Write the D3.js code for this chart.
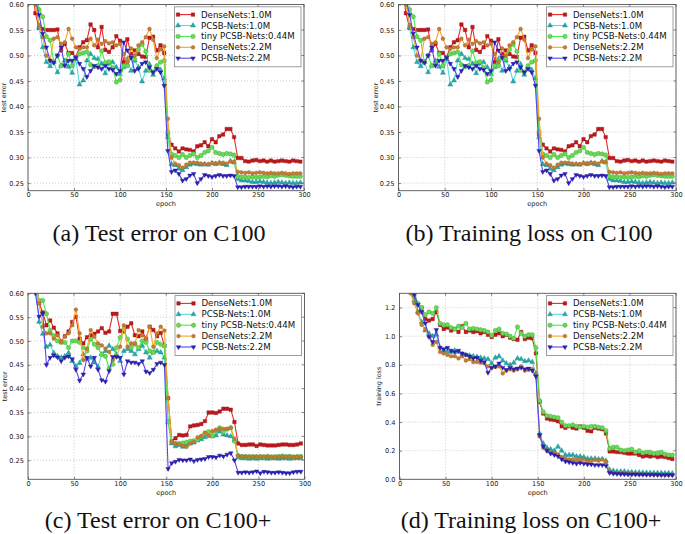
<!DOCTYPE html>
<html><head><meta charset="utf-8">
<script src="https://cdn.jsdelivr.net/npm/d3@7"></script>
<style>body{margin:0;background:#fff}svg{display:block}</style>
</head><body><svg id="c" width="685" height="534"></svg>
<script>
// ---------- DATA ----------
const epochs = [4,8,12,16,20,24,28,32,36,40,44,48,52,56,60,64,68,72,76,80,84,88,92,96,100,104,108,112,116,120,124,128,132,136,140,144,148,152,156,160,164,168,172,176,180,184,188,192,196,200,204,208,212,216,220,224,228,232,236,240,244,248,252,256,260,264,268,272,276,280,284,288,292,296];
const seriesNames = ["DenseNets:1.0M","PCSB-Nets:1.0M","tiny PCSB-Nets:0.44M","DenseNets:2.2M","PCSB-Nets:2.2M"];

// C100 test error (panels a and b)
const c100Dense1 = [0.640,0.583,0.554,0.552,0.550,0.550,0.550,0.551,0.510,0.523,0.505,0.505,0.497,0.516,0.526,0.530,0.561,0.550,0.516,0.556,0.511,0.507,0.516,0.538,0.529,0.487,0.532,0.503,0.510,0.503,0.498,0.497,0.535,0.537,0.510,0.520,0.505,0.345,0.325,0.318,0.312,0.318,0.316,0.315,0.312,0.322,0.324,0.330,0.322,0.336,0.330,0.342,0.345,0.356,0.356,0.340,0.299,0.299,0.293,0.292,0.294,0.295,0.293,0.294,0.292,0.294,0.292,0.293,0.294,0.293,0.292,0.294,0.293,0.292];
const c100Pcsb1 = [0.700,0.620,0.555,0.516,0.487,0.479,0.487,0.467,0.480,0.490,0.478,0.466,0.493,0.443,0.451,0.490,0.503,0.495,0.493,0.484,0.465,0.484,0.487,0.477,0.463,0.477,0.493,0.470,0.490,0.477,0.449,0.470,0.483,0.462,0.478,0.472,0.455,0.340,0.287,0.285,0.278,0.275,0.281,0.286,0.288,0.287,0.286,0.287,0.286,0.289,0.287,0.290,0.287,0.285,0.293,0.290,0.258,0.255,0.255,0.254,0.252,0.252,0.253,0.252,0.251,0.250,0.251,0.252,0.251,0.250,0.251,0.250,0.250,0.251];
const c100Tiny = [0.720,0.640,0.590,0.576,0.537,0.530,0.487,0.500,0.480,0.484,0.503,0.480,0.496,0.503,0.505,0.507,0.482,0.478,0.480,0.509,0.486,0.488,0.476,0.448,0.452,0.480,0.480,0.496,0.493,0.512,0.522,0.508,0.471,0.468,0.480,0.487,0.490,0.350,0.307,0.304,0.300,0.306,0.300,0.304,0.307,0.300,0.304,0.310,0.313,0.320,0.310,0.308,0.306,0.308,0.307,0.305,0.263,0.262,0.262,0.261,0.262,0.261,0.262,0.263,0.262,0.264,0.263,0.265,0.266,0.265,0.264,0.263,0.263,0.263];
const c100Dense2 = [0.690,0.600,0.560,0.536,0.500,0.490,0.533,0.536,0.523,0.526,0.552,0.533,0.516,0.513,0.516,0.516,0.533,0.520,0.531,0.523,0.528,0.524,0.526,0.520,0.523,0.503,0.487,0.514,0.500,0.520,0.526,0.536,0.552,0.531,0.495,0.512,0.518,0.376,0.300,0.288,0.285,0.280,0.286,0.290,0.290,0.290,0.288,0.287,0.287,0.289,0.289,0.289,0.290,0.288,0.292,0.292,0.272,0.271,0.270,0.271,0.269,0.270,0.271,0.270,0.269,0.270,0.269,0.269,0.270,0.269,0.268,0.269,0.269,0.269];
const c100Pcsb2 = [0.700,0.610,0.580,0.543,0.516,0.490,0.486,0.500,0.516,0.480,0.490,0.490,0.496,0.484,0.474,0.458,0.470,0.480,0.477,0.474,0.480,0.474,0.472,0.464,0.470,0.526,0.510,0.496,0.470,0.474,0.484,0.487,0.477,0.467,0.474,0.467,0.441,0.313,0.272,0.275,0.268,0.255,0.258,0.265,0.268,0.250,0.258,0.266,0.264,0.262,0.264,0.266,0.264,0.264,0.265,0.264,0.242,0.242,0.243,0.243,0.243,0.243,0.244,0.243,0.244,0.243,0.244,0.244,0.243,0.244,0.243,0.242,0.243,0.243];

// C100+ test error (panel c)
const c100pDense1 = [0.700,0.640,0.579,0.560,0.533,0.543,0.528,0.516,0.499,0.510,0.520,0.540,0.551,0.505,0.495,0.508,0.512,0.515,0.520,0.527,0.517,0.520,0.557,0.557,0.521,0.520,0.530,0.537,0.512,0.510,0.520,0.505,0.530,0.523,0.510,0.517,0.490,0.380,0.290,0.296,0.303,0.302,0.303,0.321,0.323,0.324,0.326,0.332,0.350,0.350,0.349,0.352,0.358,0.358,0.356,0.330,0.285,0.282,0.282,0.283,0.283,0.280,0.283,0.282,0.281,0.281,0.281,0.282,0.283,0.283,0.282,0.282,0.283,0.285];
const c100pPcsb1 = [0.700,0.620,0.540,0.515,0.488,0.492,0.475,0.468,0.465,0.468,0.475,0.458,0.447,0.454,0.472,0.462,0.465,0.455,0.446,0.472,0.479,0.490,0.483,0.472,0.458,0.479,0.483,0.479,0.472,0.483,0.490,0.476,0.465,0.476,0.479,0.476,0.465,0.330,0.285,0.279,0.282,0.278,0.282,0.285,0.287,0.291,0.294,0.298,0.305,0.300,0.302,0.310,0.304,0.302,0.300,0.292,0.256,0.254,0.254,0.253,0.254,0.253,0.254,0.254,0.253,0.254,0.254,0.253,0.254,0.254,0.253,0.254,0.254,0.254];
const c100pTiny = [0.700,0.620,0.585,0.585,0.557,0.522,0.511,0.500,0.497,0.497,0.486,0.500,0.500,0.497,0.486,0.479,0.504,0.493,0.486,0.472,0.468,0.443,0.451,0.486,0.507,0.525,0.504,0.486,0.493,0.486,0.500,0.497,0.479,0.476,0.497,0.493,0.490,0.330,0.288,0.285,0.285,0.286,0.288,0.290,0.291,0.293,0.299,0.306,0.310,0.301,0.312,0.318,0.309,0.315,0.318,0.290,0.259,0.258,0.258,0.257,0.258,0.257,0.258,0.257,0.258,0.257,0.258,0.258,0.259,0.258,0.258,0.257,0.258,0.258];
const c100pDense2 = [0.680,0.620,0.579,0.530,0.516,0.516,0.505,0.512,0.498,0.509,0.516,0.533,0.566,0.516,0.460,0.484,0.523,0.509,0.495,0.491,0.484,0.477,0.460,0.467,0.488,0.533,0.488,0.495,0.495,0.523,0.512,0.505,0.530,0.488,0.516,0.530,0.522,0.380,0.288,0.285,0.283,0.280,0.278,0.285,0.288,0.298,0.301,0.308,0.301,0.311,0.314,0.316,0.316,0.316,0.318,0.295,0.260,0.258,0.258,0.258,0.257,0.258,0.257,0.258,0.258,0.257,0.256,0.257,0.258,0.257,0.258,0.257,0.257,0.257];
const c100pPcsb2 = [0.680,0.600,0.551,0.558,0.450,0.465,0.470,0.466,0.458,0.465,0.468,0.462,0.440,0.417,0.430,0.465,0.447,0.465,0.440,0.418,0.415,0.437,0.467,0.467,0.465,0.430,0.458,0.455,0.455,0.452,0.458,0.436,0.433,0.440,0.452,0.455,0.450,0.232,0.244,0.247,0.251,0.250,0.250,0.252,0.248,0.251,0.252,0.253,0.257,0.257,0.256,0.260,0.258,0.262,0.265,0.250,0.224,0.224,0.225,0.224,0.225,0.227,0.223,0.226,0.225,0.224,0.224,0.225,0.224,0.223,0.223,0.225,0.226,0.226];

// C100+ training loss (panel d)
const lossDense1 = [1.60,1.45,1.35,1.28,1.17,1.20,1.12,1.11,1.12,1.17,1.08,1.05,1.06,1.04,1.05,1.03,1.07,1.03,1.04,1.03,1.035,1.02,1.03,1.01,0.995,1.01,1.02,1.00,1.01,0.99,0.98,0.975,1.03,0.98,0.99,0.985,0.88,0.54,0.46,0.425,0.418,0.415,0.405,0.37,0.36,0.37,0.36,0.355,0.37,0.36,0.34,0.335,0.36,0.355,0.35,0.32,0.195,0.195,0.19,0.19,0.185,0.18,0.18,0.18,0.17,0.16,0.165,0.16,0.165,0.155,0.16,0.155,0.148,0.142];
const lossPcsb1 = [1.65,1.50,1.40,1.25,1.17,1.10,1.04,1.02,1.00,1.01,0.92,0.90,0.895,0.89,0.90,0.89,0.875,0.87,0.865,0.86,0.855,0.85,0.845,0.84,0.81,0.85,0.86,0.83,0.81,0.80,0.815,0.845,0.84,0.825,0.83,0.82,0.74,0.32,0.25,0.22,0.21,0.20,0.228,0.20,0.17,0.17,0.17,0.16,0.16,0.155,0.145,0.145,0.145,0.14,0.14,0.13,0.065,0.06,0.055,0.055,0.055,0.05,0.05,0.048,0.048,0.047,0.046,0.045,0.045,0.044,0.044,0.043,0.043,0.042];
const lossTiny = [1.65,1.50,1.38,1.30,1.23,1.20,1.15,1.17,1.16,1.20,1.09,1.08,1.08,1.06,1.05,1.07,1.06,1.09,1.05,1.055,1.05,1.045,1.04,1.03,1.005,1.04,1.05,1.02,1.015,1.00,0.985,1.065,1.02,1.00,1.01,1.01,0.92,0.55,0.47,0.445,0.44,0.435,0.43,0.40,0.375,0.375,0.38,0.37,0.365,0.37,0.365,0.37,0.37,0.365,0.36,0.34,0.215,0.225,0.225,0.205,0.20,0.205,0.21,0.19,0.20,0.185,0.19,0.19,0.18,0.185,0.19,0.175,0.17,0.17];
const lossDense2 = [1.60,1.40,1.30,1.23,1.16,1.08,1.05,1.00,0.94,0.96,0.89,0.88,0.87,0.86,0.86,0.845,0.86,0.83,0.84,0.82,0.82,0.815,0.81,0.79,0.78,0.785,0.79,0.74,0.76,0.77,0.76,0.77,0.79,0.76,0.765,0.77,0.73,0.30,0.22,0.20,0.19,0.18,0.175,0.155,0.145,0.14,0.14,0.135,0.14,0.14,0.125,0.13,0.135,0.13,0.14,0.12,0.05,0.045,0.042,0.04,0.038,0.037,0.036,0.035,0.035,0.034,0.034,0.033,0.033,0.032,0.032,0.031,0.031,0.030];
const lossPcsb2 = [1.70,1.50,1.40,1.29,1.22,1.17,1.09,0.995,0.96,1.045,0.92,0.91,0.92,0.90,0.89,0.90,0.88,0.87,0.86,0.845,0.85,0.83,0.82,0.745,0.78,0.79,0.81,0.78,0.765,0.78,0.77,0.775,0.78,0.77,0.775,0.76,0.72,0.31,0.23,0.20,0.18,0.17,0.16,0.14,0.125,0.12,0.115,0.11,0.115,0.11,0.105,0.105,0.10,0.10,0.10,0.095,0.045,0.04,0.038,0.037,0.036,0.035,0.034,0.034,0.033,0.033,0.032,0.032,0.031,0.031,0.030,0.030,0.030,0.030];

const xTicks = [0,50,100,150,200,250,300];
const errTicks = [0.25,0.30,0.35,0.40,0.45,0.50,0.55,0.60];
const lossTicks = [0.0,0.2,0.4,0.6,0.8,1.0,1.2];
const captions = ["(a) Test error on C100","(b) Training loss on C100","(c) Test error on C100+","(d) Training loss on C100+"];
const yLabels = ["test error","test error","test error","training loss"];

// ---------- STYLE ----------
const styles = [
  {line:"#e8282c", fill:"#c4161c", stroke:"#8a0c10", sym:d3.symbolSquare, size:12, rot:0},
  {line:"#55dada", fill:"#27a9a9", stroke:"#1a8585", sym:d3.symbolTriangle, size:11, rot:0},
  {line:"#44ee44", fill:"#6ad957", stroke:"#2fa82f", sym:d3.symbolCircle, size:15, rot:0},
  {line:"#f5a623", fill:"#c47d35", stroke:"#9a5a20", sym:d3.symbolCircle, size:11, rot:0},
  {line:"#5743ee", fill:"#2c20b8", stroke:"#1e1590", sym:d3.symbolTriangle, size:9, rot:180}
];

const panels = [
  {x0:28, x1:304, y0:4.5, y1:190.7, dom:[0.235,0.60], ticks:errTicks, fmt:d3.format(".2f"),
   data:[c100Dense1,c100Pcsb1,c100Tiny,c100Dense2,c100Pcsb2], cap:0, capX:159, capY:241, ylx:5.5},
  {x0:398.5, x1:676, y0:4.5, y1:190.7, dom:[0.235,0.60], ticks:errTicks, fmt:d3.format(".2f"),
   data:[c100Dense1,c100Pcsb1,c100Tiny,c100Dense2,c100Pcsb2], cap:1, capX:529, capY:241, ylx:377.5},
  {x0:28, x1:304.5, y0:293.3, y1:479.3, dom:[0.21,0.60], ticks:errTicks, fmt:d3.format(".2f"),
   data:[c100pDense1,c100pPcsb1,c100pTiny,c100pDense2,c100pPcsb2], cap:2, capX:158, capY:528, ylx:6.5},
  {x0:399.5, x1:676, y0:293.3, y1:479.3, dom:[0,1.3], ticks:lossTicks, fmt:d3.format(".1f"),
   data:[lossDense1,lossPcsb1,lossTiny,lossDense2,lossPcsb2], cap:3, capX:531, capY:528, ylx:381}
];

const svg = d3.select("#c");
const sans = "DejaVu Sans, Verdana, sans-serif";

panels.forEach((p, pi) => {
  const x = d3.scaleLinear().domain([0,300]).range([p.x0, p.x1]);
  const y = d3.scaleLinear().domain(p.dom).range([p.y1, p.y0]);
  const g = svg.append("g");
  const clipId = "clip" + pi;
  g.append("clipPath").attr("id", clipId).append("rect")
    .attr("x", p.x0).attr("y", p.y0).attr("width", p.x1 - p.x0).attr("height", p.y1 - p.y0);

  // grid
  const grid = g.append("g");
  xTicks.forEach(t => grid.append("line").attr("x1", x(t)).attr("x2", x(t)).attr("y1", p.y0).attr("y2", p.y1)
    .attr("stroke", "#a8a8a8").attr("stroke-width", 0.6).attr("stroke-dasharray", "1,2"));
  p.ticks.forEach(t => grid.append("line").attr("x1", p.x0).attr("x2", p.x1).attr("y1", y(t)).attr("y2", y(t))
    .attr("stroke", "#a8a8a8").attr("stroke-width", 0.6).attr("stroke-dasharray", "1,2"));

  // series
  const plot = g.append("g").attr("clip-path", `url(#${clipId})`);
  p.data.forEach((vals, si) => {
    const st = styles[si];
    const pts = epochs.map((e, i) => [e, vals[i]]);
    plot.append("path").datum(pts)
      .attr("d", d3.line().x(d => x(d[0])).y(d => y(d[1])))
      .attr("fill", "none").attr("stroke", st.line).attr("stroke-width", 1.1);
    plot.selectAll(null).data(pts).enter().append("path")
      .attr("d", d3.symbol().type(st.sym).size(st.size))
      .attr("transform", d => `translate(${x(d[0])},${y(d[1])}) rotate(${st.rot})`)
      .attr("fill", st.fill).attr("stroke", st.stroke).attr("stroke-width", 0.4);
  });

  // axes with d3 axis generators
  const xAxis = d3.axisBottom(x).tickValues(xTicks).tickSize(-2.5).tickPadding(1.8).tickFormat(d3.format("d"));
  const yAxis = d3.axisLeft(y).tickValues(p.ticks).tickSize(-2.5).tickPadding(4).tickFormat(p.fmt);
  const gx = g.append("g").attr("transform", `translate(0,${p.y1})`).call(xAxis);
  const gy = g.append("g").attr("transform", `translate(${p.x0},0)`).call(yAxis);
  [gx, gy].forEach(a => {
    a.select(".domain").remove();
    a.selectAll("line").attr("stroke", "#333").attr("stroke-width", 0.6);
    a.selectAll("text").attr("font-family", sans).attr("font-size", 6.6).attr("fill", "#222");
  });
  // top/right ticks
  xTicks.forEach(t => g.append("line").attr("x1", x(t)).attr("x2", x(t)).attr("y1", p.y0).attr("y2", p.y0 + 2.5)
    .attr("stroke", "#333").attr("stroke-width", 0.6));
  p.ticks.forEach(t => g.append("line").attr("x1", p.x1).attr("x2", p.x1 - 2.5).attr("y1", y(t)).attr("y2", y(t))
    .attr("stroke", "#333").attr("stroke-width", 0.6));

  // frame
  g.append("rect").attr("x", p.x0).attr("y", p.y0).attr("width", p.x1 - p.x0).attr("height", p.y1 - p.y0)
    .attr("fill", "none").attr("stroke", "#555").attr("stroke-width", 0.9);

  // labels
  g.append("text").attr("x", (p.x0 + p.x1) / 2).attr("y", p.y1 + 15.3).attr("text-anchor", "middle")
    .attr("font-family", sans).attr("font-size", 6.6).attr("fill", "#222").text("epoch");
  g.append("text").attr("transform", `translate(${p.ylx},${(p.y0 + p.y1) / 2}) rotate(-90)`)
    .attr("text-anchor", "middle").attr("font-family", sans).attr("font-size", 6.4).attr("fill", "#222")
    .text(yLabels[pi]);

  // legend
  const lw = 126.5, lh = 60;
  const lx = p.x1 - 3 - lw, ly = p.y0 + 2.3;
  const lg = g.append("g");
  lg.append("rect").attr("x", lx).attr("y", ly).attr("width", lw).attr("height", lh)
    .attr("fill", "#fff").attr("stroke", "#888").attr("stroke-width", 0.8);
  seriesNames.forEach((nm, si) => {
    const st = styles[si];
    const cy = ly + 7.8 + si * 10.9;
    lg.append("line").attr("x1", lx + 3.5).attr("x2", lx + 18.5).attr("y1", cy).attr("y2", cy)
      .attr("stroke", st.line).attr("stroke-width", 1.1);
    [lx + 3.5, lx + 18.5].forEach(mx => lg.append("path")
      .attr("d", d3.symbol().type(st.sym).size(st.size))
      .attr("transform", `translate(${mx},${cy}) rotate(${st.rot})`)
      .attr("fill", st.fill).attr("stroke", st.stroke).attr("stroke-width", 0.4));
    lg.append("text").attr("x", lx + 26.5).attr("y", cy + 3).attr("font-family", sans)
      .attr("font-size", 8.6).attr("fill", "#111").text(nm);
  });

  // caption
  svg.append("text").attr("class", "cap").attr("x", p.capX).attr("y", p.capY).attr("text-anchor", "middle")
    .attr("font-family", "Liberation Serif, Times New Roman, serif").attr("font-size", 20).attr("fill", "#111")
    .text(captions[p.cap]);
});

// scale captions so the "(a)" caption spans the same width as in the reference (~213px)
const caps = svg.selectAll("text.cap");
const w0 = caps.nodes()[0].getComputedTextLength();
const fs = 20 * 213 / w0;
caps.attr("font-size", fs);
</script></body></html>
